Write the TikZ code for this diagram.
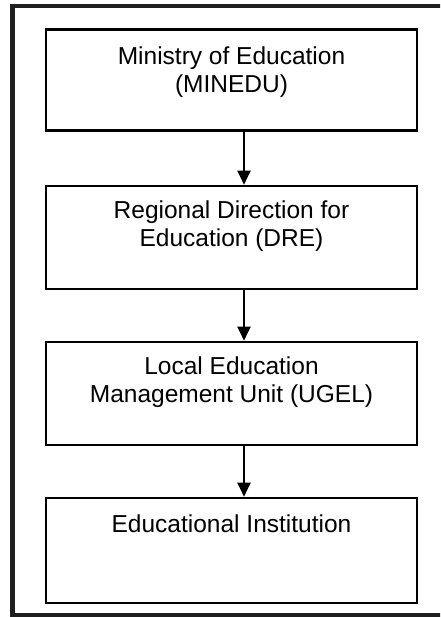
\documentclass[tikz,border=0pt]{standalone}
\usepackage{fontspec}
\setmainfont{Liberation Sans}
\usetikzlibrary{arrows.meta,calc}
\begin{document}
\begin{tikzpicture}[x=1pt,y=-1pt,
  frame/.style={draw=black!88,line width=4.5pt},
  unitbox/.style={draw=black,line width=2.6pt,rectangle,inner sep=0pt,minimum width=371pt},
  label text/.style={anchor=north,inner sep=0pt,align=center,
    font=\fontsize{24.5}{28}\selectfont},
  flow/.style={draw=black,line width=2pt,-{Triangle[length=14pt,width=13pt]}}]
  \useasboundingbox (0,0) rectangle (440,617);
  \clip (0,0) rectangle (440,617);
  % outer frame
  \draw[frame] (12.5,6) rectangle (460,615.5);
  % hierarchy boxes
  \node[unitbox,minimum height=101pt] (b1) at (231.5,80) {};
  \node[unitbox,minimum height=103pt] (b2) at (231.5,237.5) {};
  \node[unitbox,minimum height=103pt] (b3) at (231.5,393.5) {};
  \node[unitbox,minimum height=105pt] (b4) at (231.5,550.5) {};
  % labels
  \node[label text] (t1) at ([yshift=-18pt]b1.north) {Ministry of Education\\(MINEDU)};
  \node[label text] (t2) at ([yshift=-16pt]b2.north) {Regional Direction for\\Education (DRE)};
  \node[label text] (t3) at ([yshift=-16pt]b3.north) {Local Education\\Management Unit (UGEL)};
  \node[label text] (t4) at ([yshift=-18pt]b4.north) {Educational Institution};
  % connectors
  \draw[flow] ([xshift=12.5pt]b1.south) -- ([xshift=12.5pt]b2.north);
  \draw[flow] ([xshift=12.5pt]b2.south) -- ([xshift=12.5pt]b3.north);
  \draw[flow] ([xshift=12.5pt]b3.south) -- ([xshift=12.5pt]b4.north);
\end{tikzpicture}
\end{document}
